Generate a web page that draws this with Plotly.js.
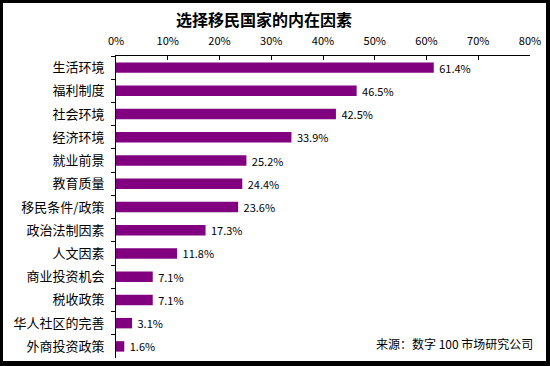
<!DOCTYPE html>
<html>
<head>
<meta charset="utf-8">
<script src="https://cdn.plot.ly/plotly-3.0.1.min.js"></script>
<style>
body{margin:0;padding:0;background:#fff;}
#wrap{position:relative;width:550px;height:366px;}
#chart{width:550px;height:366px;}
#frame{position:absolute;left:0;top:0;width:550px;height:366px;box-sizing:border-box;border-left:3px solid #000;border-top:3px solid #000;border-right:4px solid #000;border-bottom:5px solid #000;pointer-events:none;}
</style>
</head>
<body>
<div id="wrap"><div id="chart"></div><div id="frame"></div></div>
<script>
const categories = ["生活环境","福利制度","社会环境","经济环境","就业前景","教育质量","移民条件/政策","政治法制因素","人文因素","商业投资机会","税收政策","华人社区的完善","外商投资政策"];
const values = [61.4,46.5,42.5,33.9,25.2,24.4,23.6,17.3,11.8,7.1,7.1,3.1,1.6];
const tickVals = [0,10,20,30,40,50,60,70,80];
const tickLabels = ["0%","10%","20%","30%","40%","50%","60%","70%","80%"];
const titleText = "选择移民国家的内在因素";
const sourceText = "来源：数字 100 市场研究公司";

const font = "'Noto Sans CJK SC', sans-serif";

const trace = {
  type: "bar",
  orientation: "h",
  x: values,
  y: categories,
  marker: {color: "#800080", line: {width: 0}},
  text: values.map(v => "\u00a0" + v.toFixed(1) + "%"),
  textposition: "outside",
  constraintext: "none",
  cliponaxis: false,
  textfont: {family: font, size: 11, color: "#000"},
  hoverinfo: "none"
};

const layout = {
  width: 550, height: 366,
  margin: {l: 116, r: 20, t: 56, b: 8},
  paper_bgcolor: "#fff",
  plot_bgcolor: "#fff",
  bargap: 0.55,
  showlegend: false,
  title: {
    text: "<b>" + titleText + "</b>",
    font: {family: font, size: 16, color: "#000"},
    xref: "container", x: 0.48, xanchor: "center",
    yref: "container", y: 1 - 20/366, yanchor: "middle"
  },
  xaxis: {
    side: "top",
    range: [0, 80],
    tickvals: tickVals,
    ticktext: tickLabels,
    ticks: "inside",
    ticklen: 4,
    tickcolor: "#000",
    showline: true,
    linecolor: "#000",
    linewidth: 1,
    showgrid: false,
    zeroline: false,
    ticklabelstandoff: 6,
    tickfont: {family: font, size: 11, color: "#000"},
    fixedrange: true
  },
  yaxis: {
    type: "category",
    autorange: "reversed",
    tickson: "boundaries",
    ticks: "outside",
    ticklen: 4,
    tickcolor: "#000",
    showline: true,
    linecolor: "#000",
    linewidth: 1,
    showgrid: false,
    zeroline: false,
    ticklabelstandoff: 8,
    tickfont: {family: font, size: 13, color: "#000"},
    fixedrange: true
  },
  annotations: [{
    text: sourceText,
    xref: "paper", yref: "paper",
    x: (535-116)/414, y: (358-343)/302,
    xanchor: "right", yanchor: "middle",
    showarrow: false,
    font: {family: font, size: 12, color: "#000"}
  }]
};

Plotly.newPlot("chart", [trace], layout, {displayModeBar: false, staticPlot: true});
</script>
</body>
</html>
